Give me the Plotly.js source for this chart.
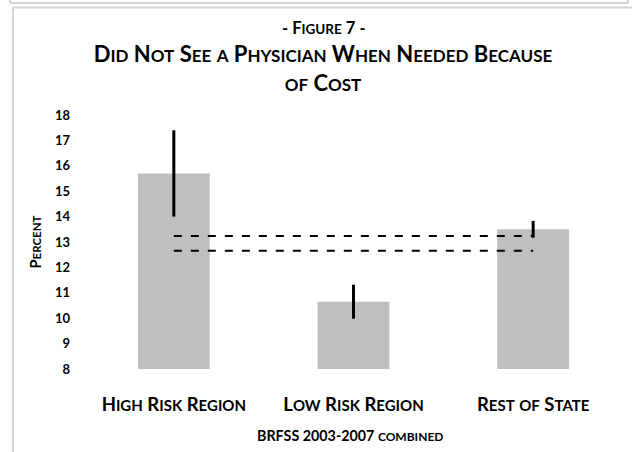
<!DOCTYPE html>
<html>
<head>
<meta charset="utf-8">
<script src="https://cdn.plot.ly/plotly-3.0.1.min.js"></script>
<style>html,body{margin:0;padding:0;background:#fff;}#chart{width:632px;height:452px;}</style>
</head>
<body>
<div id="chart"></div>
<script>
// ---- data ----
const categories = ["High Risk Region", "Low Risk Region", "Rest of State"];
const percentValues = [15.7, 10.65, 13.5];
const errorUpper = [1.7, 0.67, 0.33];
const errorLower = [1.7, 0.67, 0.33];
const refLineUpper = [13.24, 13.24];
const refLineLower = [12.66, 12.66];
const refLineCats = ["High Risk Region", "Rest of State"];
const yTicks = [8, 9, 10, 11, 12, 13, 14, 15, 16, 17, 18];
const figureLabel = "- Figure 7 -";
const titleText = "Did Not See a Physician When Needed Because<br>of Cost";
const yTitleText = "Percent";
const sourceText = "BRFSS 2003-2007 combined";

// small-caps helper: lowercase runs become smaller uppercase
function sc(str, small) {
  return str.split('<br>').map(line => {
    let out = '', run = '';
    for (const ch of line) {
      if (ch >= 'a' && ch <= 'z') { run += ch.toUpperCase(); }
      else {
        if (run) { out += `<span style="font-size:${small}px">${run}</span>`; run = ''; }
        out += ch;
      }
    }
    if (run) out += `<span style="font-size:${small}px">${run}</span>`;
    return out;
  }).join('<br>');
}

const FONT = "Lato, 'Open Sans', sans-serif";

// plot-area pixel geometry for frame decoration
const L = 84, R = 9, T = 115, B = 83, W = 632, H = 452;
const pw = W - L - R, ph = H - T - B;
const px = x => (x - L) / pw;
const py = y => (H - B - y) / ph;

const frameColor = "#d4d4d4";
const shapes = [
  {type: "line", xref: "paper", yref: "paper", x0: px(10), x1: px(628), y0: py(3), y1: py(3), line: {color: frameColor, width: 2}},
  {type: "line", xref: "paper", yref: "paper", x0: px(10), x1: px(10), y0: py(-2), y1: py(3), line: {color: frameColor, width: 2}},
  {type: "line", xref: "paper", yref: "paper", x0: px(628), x1: px(628), y0: py(-2), y1: py(3), line: {color: frameColor, width: 2}},
  {type: "line", xref: "paper", yref: "paper", x0: px(13), x1: px(640), y0: py(7.5), y1: py(7.5), line: {color: frameColor, width: 2}},
  {type: "line", xref: "paper", yref: "paper", x0: px(13), x1: px(13), y0: py(7.5), y1: py(460), line: {color: frameColor, width: 2}}
];

const traces = [
  {
    type: "bar",
    x: categories,
    y: percentValues,
    marker: {color: "#bfbfbf"},
    error_y: {type: "data", symmetric: false, array: errorUpper, arrayminus: errorLower,
              color: "#000", thickness: 3, width: 0},
    hoverinfo: "x+y",
    showlegend: false
  },
  {
    type: "scatter", mode: "lines", x: refLineCats, y: refLineUpper,
    line: {color: "#000", width: 2, dash: "8px,9px"}, showlegend: false, hoverinfo: "skip"
  },
  {
    type: "scatter", mode: "lines", x: refLineCats, y: refLineLower,
    line: {color: "#000", width: 2, dash: "8px,9px"}, showlegend: false, hoverinfo: "skip"
  }
];

const layout = {
  width: W, height: H,
  margin: {l: L, r: R, t: T, b: B, pad: 0},
  paper_bgcolor: "#fff", plot_bgcolor: "#fff",
  font: {family: FONT, color: "#000"},
  title: {
    text: "<b>" + sc(titleText, 17) + "</b>",
    font: {family: FONT, size: 22, color: "#000"},
    x: 323 / W, xanchor: "center", xref: "container",
    y: 1 - 62 / H, yanchor: "middle", yref: "container"
  },
  bargap: 0.6,
  xaxis: {
    type: "category",
    range: [-0.5, 2.5],
    tickvals: categories,
    ticktext: categories.map(c => "<b>" + sc(c, 15) + "</b>"),
    tickfont: {family: FONT, size: 18.5, color: "#000"},
    ticks: "", showline: false, showgrid: false, zeroline: false,
    ticklabelstandoff: 22,
    fixedrange: true
  },
  yaxis: {
    range: [8, 18],
    tickvals: yTicks,
    ticktext: yTicks.map(v => "<b>" + v + "</b>"),
    tickfont: {family: FONT, size: 13, color: "#000"},
    ticks: "", showline: false, showgrid: false, zeroline: false,
    ticklabelstandoff: 13,
    title: {text: "<b>" + sc(yTitleText, 11.5) + "</b>", font: {family: FONT, size: 14.5, color: "#000"}, standoff: 9},
    fixedrange: true
  },
  shapes: shapes,
  annotations: [
    {
      text: "<b>" + sc(figureLabel, 13.5) + "</b>",
      xref: "paper", yref: "paper", x: px(324), y: py(28),
      xanchor: "center", yanchor: "middle", showarrow: false,
      font: {family: FONT, size: 16.5, color: "#000"}
    },
    {
      text: "<b>" + sc(sourceText, 12) + "</b>",
      xref: "paper", yref: "paper", x: px(350), y: py(435),
      xanchor: "center", yanchor: "middle", showarrow: false,
      font: {family: FONT, size: 14.3, color: "#000"}
    }
  ]
};

Plotly.newPlot("chart", traces, layout, {displayModeBar: false, staticPlot: true});
</script>
</body>
</html>
